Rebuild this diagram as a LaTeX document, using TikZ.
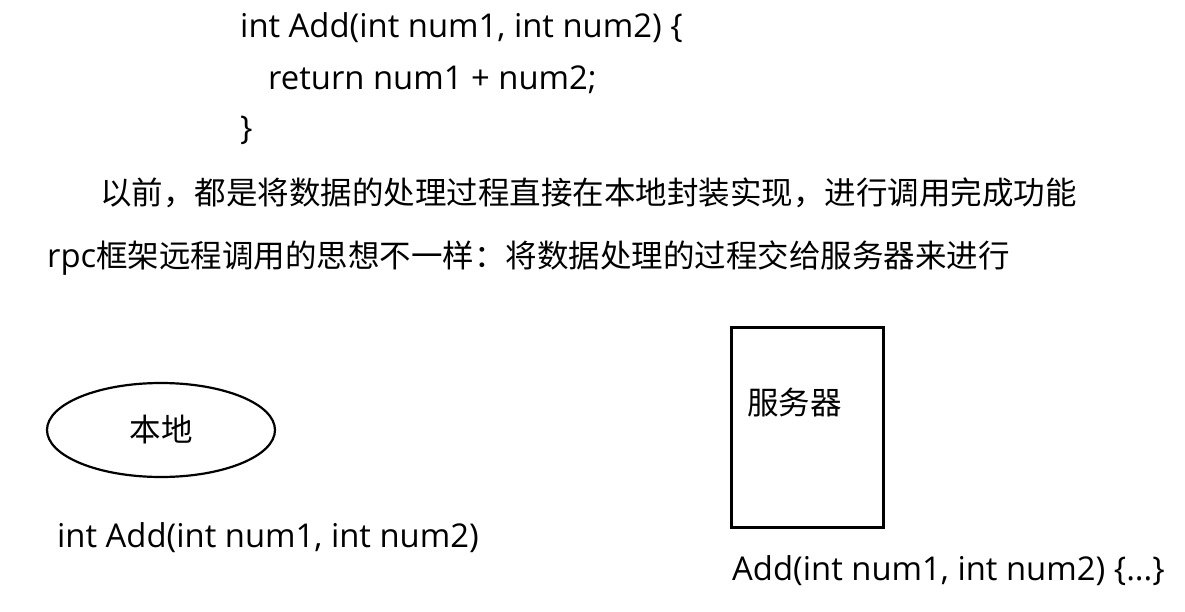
\documentclass[tikz,border=0pt]{standalone}
\usepackage{fontspec}
\usepackage{tikz}
\usetikzlibrary{positioning,shapes.geometric}
\setmainfont{Open Sans}
\newfontfamily\cjk{Noto Sans CJK SC}
\newcommand\zh{\cjk\fontsize{31.5}{36}\selectfont}

\begin{document}
\begin{tikzpicture}[
  x=1pt,y=-1pt,
  font=\fontsize{32.8}{38}\selectfont,
  t/.style={anchor=base west,inner sep=0},
  e/.style={ellipse,draw,line width=2.2pt,minimum width=228pt,minimum height=94pt,inner sep=0},
  b/.style={rectangle,draw,line width=2.2pt,minimum width=152pt,minimum height=200pt,inner sep=0},
]
\useasboundingbox (0,0) rectangle (1185,612);
% --- local function ---
\node[t] (code1) at (240,38) {int Add(int num1, int num2) \{};
\node[t] (code2) at (268,90) {return num1 + num2;};
\node[t] (code3) at (240,140) {\}};
% --- explanation ---
\node[t] (old) at (100,205) {\zh 以前，都是将数据的处理过程直接在本地封装实现，进行调用完成功能};
\node[t] (rpc) at (47,268) {rpc{\zh 框架远程调用的思想不一样：将数据处理的过程交给服务器来进行}};
% --- client / server ---
\node[e] (local) at (161,430) {\zh 本地};
\node[t] (decl) at (57,547) {int Add(int num1, int num2)};
\node[b] (server) at (807.5,427.5) {};
\node[t] (srvname) at (747,414) {\zh 服务器};
\node[t] (impl) at (732,580) {Add(int num1, int num2) \{...\}};
\end{tikzpicture}
\end{document}
